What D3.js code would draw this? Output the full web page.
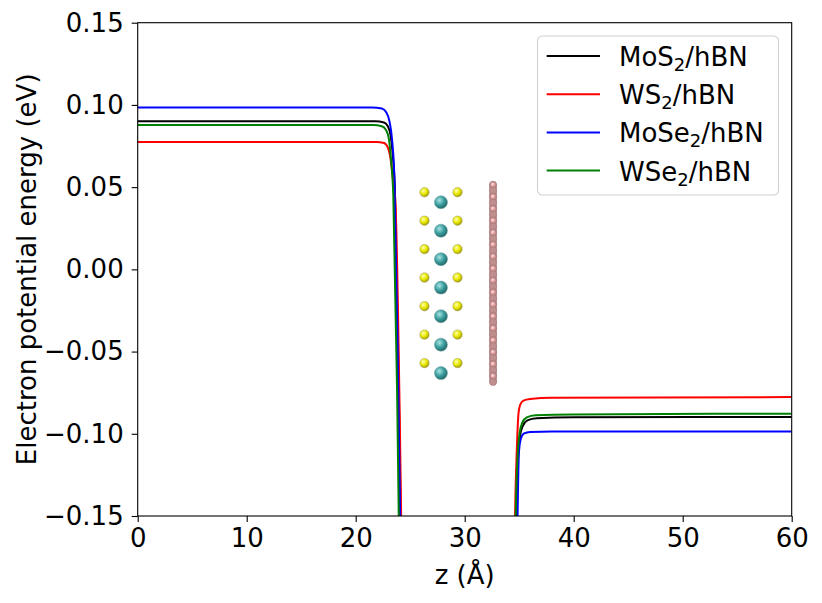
<!DOCTYPE html>
<html>
<head>
<meta charset="utf-8">
<script src="https://cdn.jsdelivr.net/npm/d3@7"></script>
<style>
  body { margin: 0; background: #fff; }
  text { font-family: "DejaVu Sans", sans-serif; }
</style>
</head>
<body>
<svg></svg>
<script>
// data: [z (Å), energy (eV)]
let mos2Points = [[0, 0.0900], [21.8, 0.0900], [22.6, 0.0893], [22.95, 0.0870], [23.2, 0.0815], [23.4, 0.0700],
                  [23.6, 0.0480], [23.95, -0.072], [24.12, -0.150], [24.3, -0.30],
                  [34.5, -0.30], [34.72, -0.150], [34.9, -0.114], [35.08, -0.1010], [35.35, -0.0950],
                  [35.75, -0.0918], [36.6, -0.0905], [40, -0.0900], [60, -0.0898]];
let ws2Points = [[0, 0.0775], [21.9, 0.0775], [22.6, 0.0768], [22.95, 0.0740], [23.2, 0.0670], [23.4, 0.0560],
                 [23.65, 0.0400], [24.0, -0.073], [24.17, -0.150], [24.35, -0.30],
                 [34.4, -0.30], [34.62, -0.150], [34.78, -0.110], [34.94, -0.0873], [35.09, -0.0824],
                 [35.39, -0.0798], [36.0, -0.0788], [38, -0.0781], [60, -0.0777]];
let mose2Points = [[0, 0.0985], [21.5, 0.0985], [22.4, 0.0978], [22.8, 0.0955], [23.1, 0.0900], [23.35, 0.0780],
                   [23.55, 0.0560], [23.9, -0.070], [24.08, -0.150], [24.3, -0.30],
                   [34.6, -0.30], [34.85, -0.150], [34.97, -0.112], [35.15, -0.1030], [35.45, -0.0998],
                   [36.0, -0.0989], [38, -0.0986], [60, -0.0986]];
let wse2Points = [[0, 0.0878], [21.6, 0.0878], [22.4, 0.0870], [22.8, 0.0845], [23.05, 0.0790], [23.25, 0.0660],
                  [23.45, 0.0450], [23.8, -0.075], [23.95, -0.150], [24.15, -0.30],
                  [34.45, -0.30], [34.68, -0.150], [34.87, -0.112], [35.05, -0.0990], [35.3, -0.0930],
                  [35.7, -0.0900], [36.5, -0.0888], [40, -0.0882], [60, -0.0878]];

let seriesLabels = [["MoS", "2", "/hBN"], ["WS", "2", "/hBN"], ["MoSe", "2", "/hBN"], ["WSe", "2", "/hBN"]];
let seriesColors = ["#000000", "#ff0000", "#0000ff", "#008000"];

let xTicks = [0, 10, 20, 30, 40, 50, 60];
let yTicks = [-0.15, -0.10, -0.05, 0.00, 0.05, 0.10, 0.15];

// inset structure, placed in data coordinates
let sulfurZ = [26.31, 29.34];
let sulfurE = [0.0469, 0.0296, 0.0123, -0.0050, -0.0224, -0.0397, -0.0570];
let metalZ = 27.82;
let metalE = [0.0408, 0.0235, 0.0062, -0.0111, -0.0285, -0.0458, -0.0631];
let hbnZ = 32.6;
let hbnTop = 0.0515;
let hbnBottom = -0.0685;

let width = 822;
let height = 603;
let marginLeft = 137.7;
let marginTop = 22.7;
let plotW = 654;
let plotH = 493.3;
let fontSize = "26px";

let svg = d3.select("svg").attr("width", width).attr("height", height);

let xScale = d3.scaleLinear().domain([0, 60]).range([marginLeft, marginLeft + plotW]);
let yScale = d3.scaleLinear().domain([-0.15, 0.15]).range([marginTop + plotH, marginTop]);

let defs = svg.append("defs");
defs.append("clipPath").attr("id", "plot-clip")
    .append("rect")
    .attr("x", marginLeft).attr("y", marginTop)
    .attr("width", plotW).attr("height", plotH);

let addGradient = (id, light, mid, dark) => {
    let g = defs.append("radialGradient").attr("id", id)
                .attr("cx", "38%").attr("cy", "35%").attr("r", "65%");
    g.append("stop").attr("offset", "0%").attr("stop-color", light);
    g.append("stop").attr("offset", "55%").attr("stop-color", mid);
    g.append("stop").attr("offset", "100%").attr("stop-color", dark);
}
addGradient("sulfur", "#ffffb0", "#e8e800", "#a8a000");
addGradient("metal", "#a8e4e4", "#3c9e9e", "#226a6a");
addGradient("boron", "#ffe0e0", "#f4b0b0", "#d08c8c");

// curves
let line = d3.line()
             .x((d) => xScale(d[0]))
             .y((d) => yScale(d[1]))
             .curve(d3.curveMonotoneX);

let allSeries = [mos2Points, ws2Points, mose2Points, wse2Points];

svg.append("g")
   .attr("clip-path", "url(#plot-clip)")
   .selectAll("path")
   .data(allSeries)
   .enter()
   .append("path")
   .attr("d", (d) => line(d))
   .attr("fill", "none")
   .attr("stroke", (d, i) => seriesColors[i])
   .attr("stroke-width", 2);

// structure inset
let inset = svg.append("g");

let hbnRows = d3.range(0, 34).map((i) => hbnTop - i * (hbnTop - hbnBottom) / 33);
inset.append("rect")
     .attr("x", xScale(hbnZ) - 3.8)
     .attr("y", yScale(hbnTop) - 1)
     .attr("width", 7.6)
     .attr("height", yScale(hbnBottom) - yScale(hbnTop) + 2)
     .attr("fill", "#b98787");
inset.selectAll(".n-atom")
     .data(hbnRows)
     .enter()
     .append("circle")
     .attr("cx", xScale(hbnZ))
     .attr("cy", (d) => yScale(d))
     .attr("r", 3.6)
     .attr("fill", "#bf8e8e")
     .attr("stroke", "#9a6c6c")
     .attr("stroke-width", 0.4);
inset.selectAll(".b-atom")
     .data(hbnRows.filter((d, i) => i % 2 == 0))
     .enter()
     .append("circle")
     .attr("cx", xScale(hbnZ))
     .attr("cy", (d) => yScale(d))
     .attr("r", 2.2)
     .attr("fill", "url(#boron)");

sulfurZ.forEach((z) => {
    inset.selectAll(null)
         .data(sulfurE)
         .enter()
         .append("circle")
         .attr("cx", xScale(z))
         .attr("cy", (d) => yScale(d))
         .attr("r", 4.7)
         .attr("fill", "url(#sulfur)")
         .attr("stroke", "#9a9a60")
         .attr("stroke-width", 0.5);
});

inset.selectAll(null)
     .data(metalE)
     .enter()
     .append("circle")
     .attr("cx", xScale(metalZ))
     .attr("cy", (d) => yScale(d))
     .attr("r", 6.5)
     .attr("fill", "url(#metal)")
     .attr("stroke", "#6a9a9a")
     .attr("stroke-width", 0.5);

// axes
let xAxis = svg.append("g")
   .attr("transform", "translate(0," + (marginTop + plotH) + ")")
   .call(d3.axisBottom(xScale).tickValues(xTicks).tickFormat(d3.format("d"))
           .tickSize(6).tickSizeOuter(0).tickPadding(7));

let yAxis = svg.append("g")
   .attr("transform", "translate(" + marginLeft + ",0)")
   .call(d3.axisLeft(yScale).tickValues(yTicks).tickFormat(d3.format(".2f"))
           .tickSize(6).tickSizeOuter(0).tickPadding(8));

[xAxis, yAxis].forEach((ax) => {
    ax.select(".domain").remove();
    ax.selectAll("line").attr("stroke", "#000").attr("stroke-width", 1.1);
    ax.selectAll("text").attr("fill", "#000").style("font-size", fontSize)
      .style("font-family", "'DejaVu Sans', sans-serif");
});

svg.append("rect")
   .attr("x", marginLeft).attr("y", marginTop)
   .attr("width", plotW).attr("height", plotH)
   .attr("fill", "none")
   .attr("stroke", "#000")
   .attr("stroke-width", 1.1);

svg.append("text")
   .attr("x", marginLeft + plotW / 2)
   .attr("y", 584)
   .attr("text-anchor", "middle")
   .style("font-size", fontSize)
   .text("z (Å)");

svg.append("text")
   .attr("transform", "translate(36," + (marginTop + plotH / 2) + ") rotate(-90)")
   .attr("text-anchor", "middle")
   .style("font-size", fontSize)
   .text("Electron potential energy (eV)");

// legend
let legend = svg.append("g");
legend.append("rect")
      .attr("x", 537.5).attr("y", 36)
      .attr("width", 241).attr("height", 159)
      .attr("rx", 5)
      .attr("fill", "#fff").attr("fill-opacity", 0.8)
      .attr("stroke", "#d0d0d0").attr("stroke-width", 1.1);

let rows = legend.selectAll(".row")
                 .data(seriesLabels)
                 .enter()
                 .append("g")
                 .attr("transform", (d, i) => "translate(0," + (56 + i * 38.2) + ")");

rows.append("line")
    .attr("x1", 546.7).attr("x2", 600)
    .attr("stroke", (d, i) => seriesColors[i])
    .attr("stroke-width", 2);

let labels = rows.append("text")
                 .attr("x", 619)
                 .attr("y", 10)
                 .style("font-size", fontSize);
labels.append("tspan").text((d) => d[0]);
labels.append("tspan").attr("dy", 5).style("font-size", "18px").text((d) => d[1]);
labels.append("tspan").attr("dy", -5).text((d) => d[2]);
</script>
</body>
</html>
